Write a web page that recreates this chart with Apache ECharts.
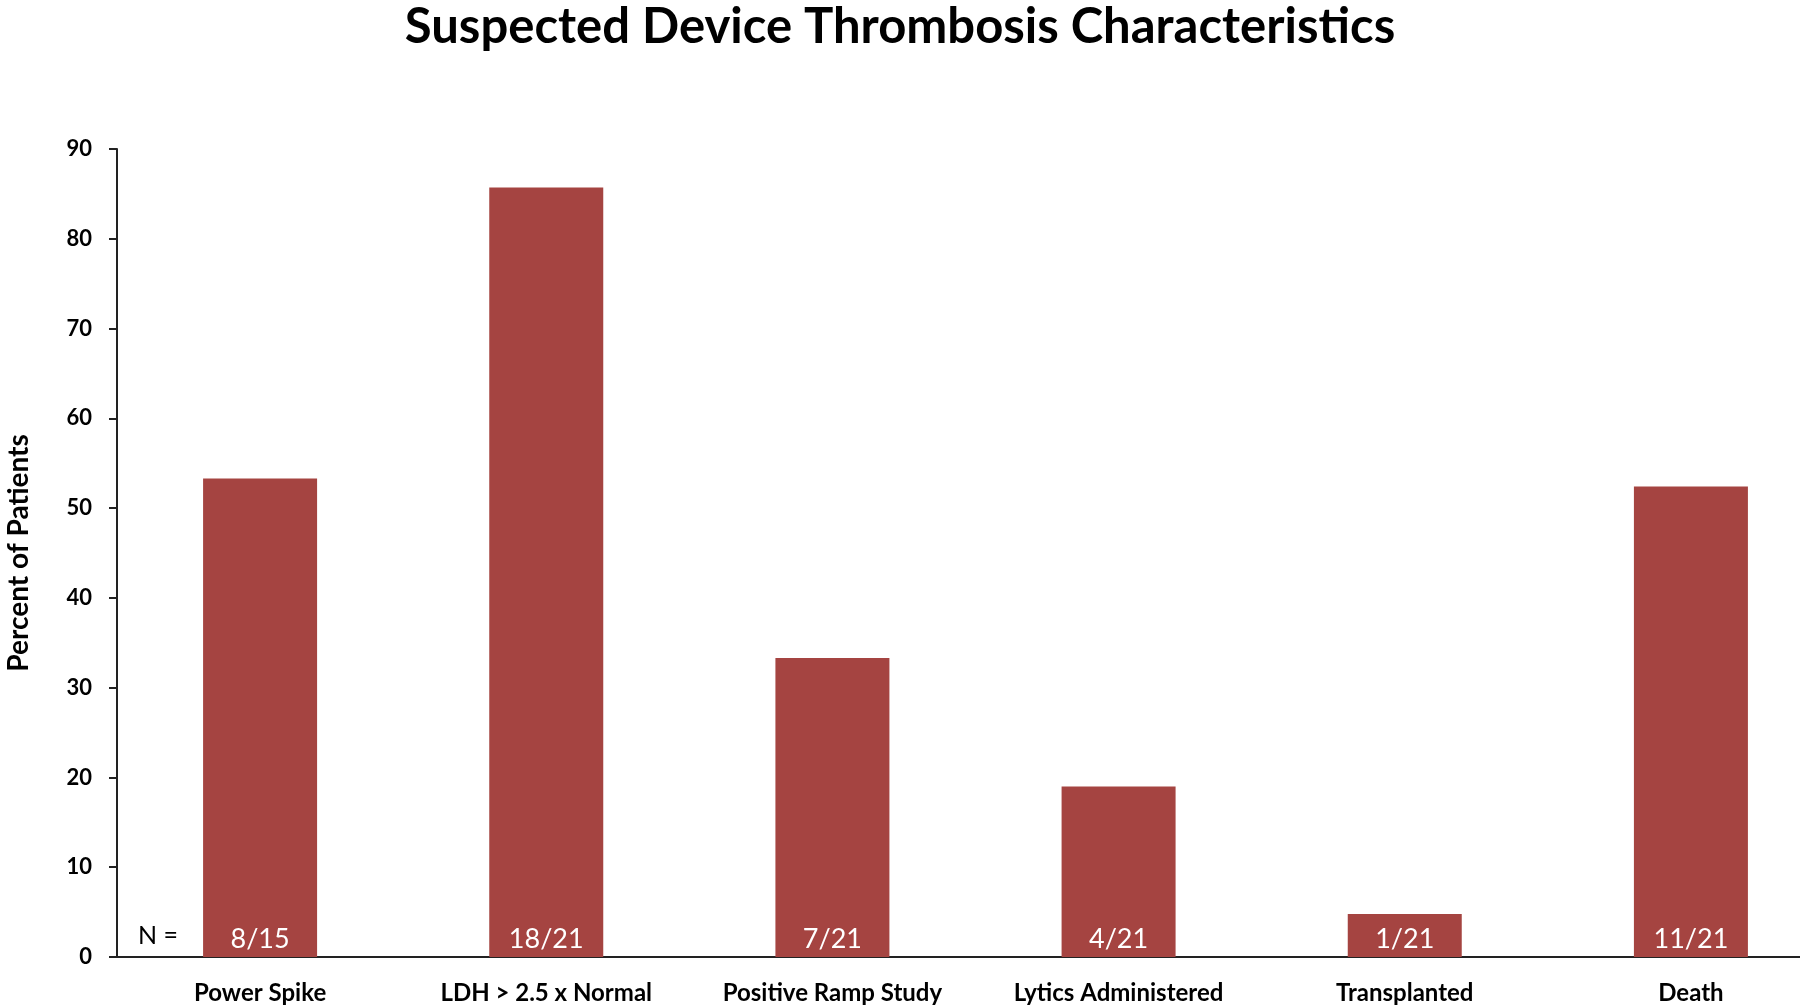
<!DOCTYPE html>
<html lang="en">
<head>
    <meta charset="UTF-8">
    <title>Suspected Device Thrombosis Characteristics</title>
    <script src="https://cdn.jsdelivr.net/npm/echarts@6/dist/echarts.min.js"></script>
</head>
<style>
    body{
        margin: 0;
        background-color: #fff;
    }
    #chart{
        width: 1800px;
        height: 1008px;
    }
</style>
<body>
    <div id="chart"></div>
    <script>
        var categories=['Power Spike','LDH > 2.5 x Normal','Positive Ramp Study','Lytics Administered','Transplanted','Death'];
        var percents=[53.3,85.7,33.3,19.0,4.8,52.4];
        var counts=['8/15','18/21','7/21','4/21','1/21','11/21'];
        var yTicks=[0,10,20,30,40,50,60,70,80,90];

        var font='Lato, "Open Sans", sans-serif';
        var chart=echarts.init(document.getElementById('chart'));
        chart.setOption({
            animation:false,
            title:{
                text:'Suspected Device Thrombosis Characteristics',
                left:'center',
                top:-2,
                textStyle:{
                    fontFamily:font,
                    fontWeight:'bold',
                    fontSize:49,
                    color:'#000'
                }
            },
            grid:{
                left:117,
                right:-34,
                top:149,
                bottom:51,
                outerBoundsMode:'none'
            },
            xAxis:{
                type:'category',
                data:categories,
                axisLine:{lineStyle:{color:'#222',width:2}},
                axisTick:{show:false},
                axisLabel:{
                    interval:0,
                    margin:24,
                    fontFamily:font,
                    fontWeight:'bold',
                    fontSize:24,
                    color:'#000'
                }
            },
            yAxis:{
                type:'value',
                min:yTicks[0],
                max:yTicks[yTicks.length-1],
                interval:10,
                name:'Percent of Patients',
                nameLocation:'middle',
                nameGap:84,
                nameTextStyle:{
                    fontFamily:font,
                    fontWeight:'bold',
                    fontSize:28,
                    color:'#000'
                },
                axisLine:{show:true,lineStyle:{color:'#222',width:2}},
                axisTick:{show:true,length:8,lineStyle:{color:'#222',width:2}},
                splitLine:{show:false},
                axisLabel:{
                    margin:25,
                    fontFamily:font,
                    fontWeight:'bold',
                    fontSize:22,
                    color:'#000'
                }
            },
            series:[
                {
                    type:'bar',
                    data:percents,
                    barWidth:114,
                    itemStyle:{color:'#a54441'},
                    label:{
                        show:true,
                        position:'insideBottom',
                        distance:4,
                        formatter:function(p){
                            return counts[p.dataIndex];
                        },
                        fontFamily:font,
                        fontSize:27,
                        color:'#fff'
                    }
                }
            ],
            graphic:[
                {
                    type:'text',
                    left:138,
                    top:923,
                    style:{
                        text:'N =',
                        fontFamily:font,
                        fontSize:25,
                        fill:'#000'
                    }
                }
            ]
        });
    </script>
</body>
</html>
